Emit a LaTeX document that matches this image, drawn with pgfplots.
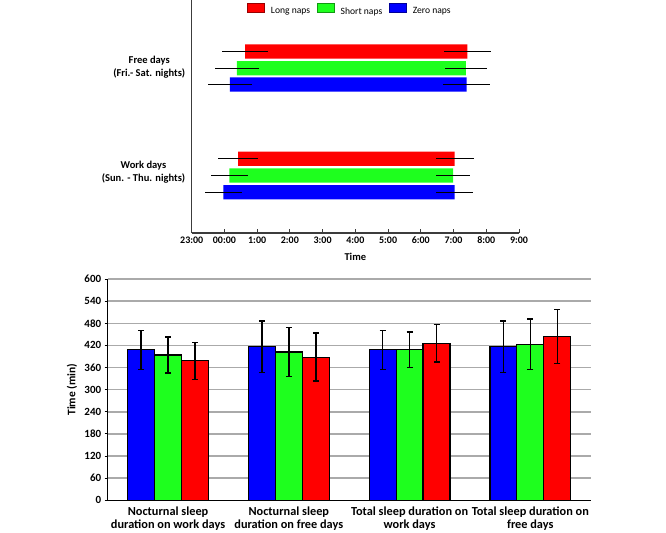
\documentclass[border=0pt]{standalone}
\usepackage{fontspec}
\setmainfont{Carlito}
\usepackage{pgfplots}
\pgfplotsset{compat=1.18}
\definecolor{cred}{RGB}{255,0,0}
\definecolor{cgreen}{RGB}{30,255,30}
\definecolor{cblue}{RGB}{0,0,255}
\definecolor{axgray}{RGB}{60,60,60}
\definecolor{gridgray}{RGB}{170,170,170}
\begin{document}
\begin{tikzpicture}
\useasboundingbox (0,0) rectangle (666bp,-533bp);
% ---------- top chart: sleep timing ----------
\begin{axis}[
  at={(191.7bp,-233bp)}, anchor=south west, scale only axis,
  width=327.3bp, height=233bp,
  xmin=0, xmax=10, ymin=0, ymax=233,
  xbar stacked, bar width=14.3,
  axis x line=bottom, axis y line=left,
  axis line style={-, draw=axgray, line width=1.3bp},
  xtick={0,...,10},
  xticklabels={23:00,00:00,1:00,2:00,3:00,4:00,5:00,6:00,7:00,8:00,9:00},
  xticklabel style={font=\bfseries\fontsize{10bp}{12bp}\selectfont},
  tick align=inside, major tick length=4bp,
  xtick style={draw=axgray, line width=1bp},
  ytick={61,166},
  yticklabels={{Work days\\(Sun. - Thu. nights)},{Free days\\(Fri.- Sat. nights)}},
  yticklabel style={align=center, xshift=-3bp, font=\bfseries\fontsize{10.5bp}{12.5bp}\selectfont},
  ytick style={draw=none},
  xlabel={Time},
  xlabel style={font=\bfseries\fontsize{10.5bp}{12.5bp}\selectfont, at={(axis description cs:0.5,-0.103)}, anchor=center},
]
\addplot[draw=none, fill=none] coordinates {(1.63,181.5) (1.38,164.8) (1.17,148.5) (1.42,74.2) (1.15,57.5) (0.97,40.8)};
\addplot[draw=none, fill=cred] coordinates {(6.79,181.5) (0,164.8) (0,148.5) (6.61,74.2) (0,57.5) (0,40.8)};
\addplot[draw=none, fill=cgreen] coordinates {(0,181.5) (7.00,164.8) (0,148.5) (0,74.2) (6.84,57.5) (0,40.8)};
\addplot[draw=none, fill=cblue] coordinates {(0,181.5) (0,164.8) (7.23,148.5) (0,74.2) (0,57.5) (7.06,40.8)};
\end{axis}
% overlay: error bars and legend
\begin{axis}[
  at={(191.7bp,-233bp)}, anchor=south west, scale only axis,
  width=327.3bp, height=233bp,
  xmin=0, xmax=10, ymin=0, ymax=233,
  hide axis,
  legend image code/.code={\filldraw[#1] (0bp,-1.3bp) rectangle (16.5bp,7.7bp);},
  legend style={at={(axis description cs:0.484,0.955)}, anchor=center, legend columns=3,
    draw=none, fill=none, font=\fontsize{9.6bp}{12bp}\selectfont,
    /tikz/every odd column/.append style={column sep=4.5bp},
    /tikz/every even column/.append style={column sep=5bp}},
]
\addlegendimage{fill=cred, draw=cred!60!black, line width=0.5bp}
\addlegendentry{Long naps}
\addlegendimage{fill=cgreen, draw=cgreen!60!black, line width=0.5bp}
\addlegendentry{Short naps}
\addlegendimage{fill=cblue, draw=cblue!60!black, line width=0.5bp}
\addlegendentry{Zero naps}
\addplot[draw=none, mark=none, forget plot,
  error bars/.cd, x dir=both, x explicit, error mark=none,
  error bar style={draw=black, line width=1bp}]
  coordinates {
  (1.63,181.5) +- (0.70,0)
  (8.42,181.5) +- (0.71,0)
  (1.38,164.8) +- (0.665,0)
  (8.38,164.8) +- (0.65,0)
  (1.17,148.5) +- (0.67,0)
  (8.40,148.5) +- (0.715,0)
  (1.42,74.2) +- (0.61,0)
  (8.03,74.2) +- (0.58,0)
  (1.15,57.5) +- (0.56,0)
  (7.99,57.5) +- (0.525,0)
  (0.97,40.8) +- (0.575,0)
  (8.03,40.8) +- (0.565,0)
  };
\end{axis}
% ---------- bottom chart: durations ----------
\begin{axis}[
  at={(107.7bp,-500.3bp)}, anchor=south west, scale only axis,
  width=483bp, height=221.3bp,
  xmin=-0.5, xmax=3.5, ymin=0, ymax=600,
  ybar=0pt, bar width=0.223,
  axis x line*=bottom, axis y line*=left,
  axis line style={-, line width=1.5bp, black},
  ytick={0,60,...,600},
  ymajorgrids, grid style={gridgray, line width=1.5bp},
  xtick={0,1,2,3},
  xticklabels={{Nocturnal sleep\\duration on work days},{Nocturnal sleep\\duration on free days},{Total sleep duration on\\work days},{Total sleep duration on\\free days}},
  xticklabel style={align=center, font=\bfseries\fontsize{12.3bp}{13.3bp}\selectfont},
  xtick style={draw=none},
  ytick style={black, line width=1bp},
  tick align=outside, major tick length=3bp,
  /pgf/number format/assume math mode=true,
  yticklabel style={font=\bfseries\fontsize{11bp}{13bp}\selectfont},
  ylabel={Time (min)},
  ylabel style={font=\bfseries\fontsize{11.5bp}{13.5bp}\selectfont, at={(axis description cs:-0.074,0.5)}, anchor=center},
  every axis plot/.append style={draw=black, line width=1.2bp,
    error bars/y dir=both, error bars/y explicit,
    error bars/error bar style={black, line width=1.5bp},
    error bars/error mark options={rotate=90, black, mark size=3bp, line width=1.5bp}},
]
\addplot[fill=cblue] coordinates {(0,408) +- (0,53) (1,416) +- (0,70) (2,408) +- (0,53) (3,416) +- (0,70)};
\addplot[fill=cgreen] coordinates {(0,394) +- (0,49) (1,402) +- (0,66) (2,408) +- (0,48) (3,423) +- (0,69)};
\addplot[fill=cred] coordinates {(0,378) +- (0,50) (1,388) +- (0,65) (2,426) +- (0,51) (3,444) +- (0,73)};
\end{axis}
\end{tikzpicture}
\end{document}
